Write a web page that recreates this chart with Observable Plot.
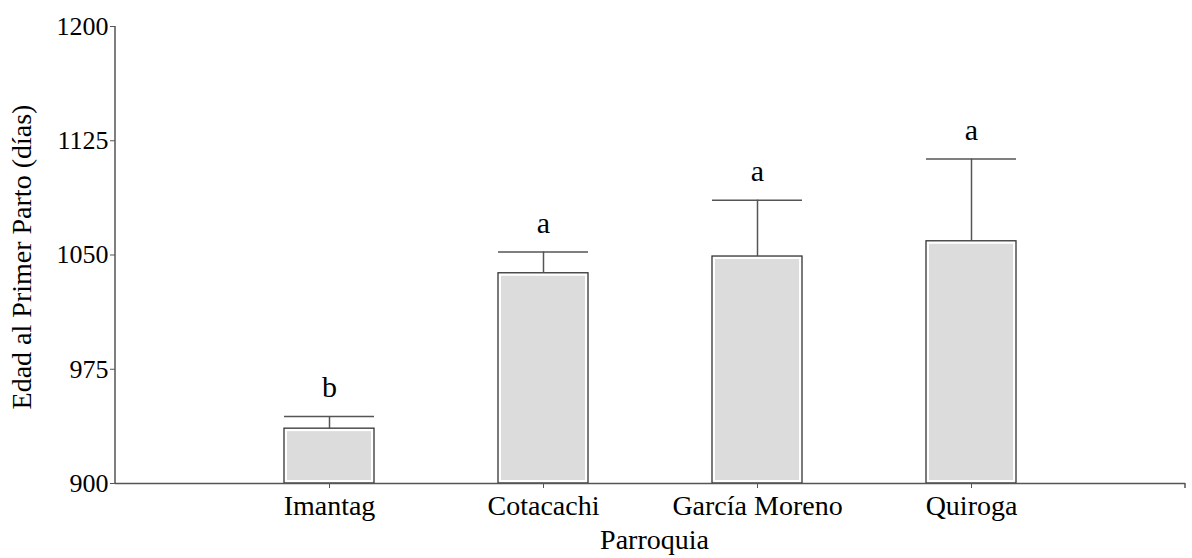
<!DOCTYPE html>
<html>
<head>
<meta charset="utf-8">
<script src="https://cdn.jsdelivr.net/npm/d3@7"></script>
<script src="https://cdn.jsdelivr.net/npm/@observablehq/plot@0.6"></script>
<style>
  html, body { margin: 0; padding: 0; background: #fff; }
  #chart { width: 1192px; height: 558px; }
</style>
</head>
<body>
<div id="chart"></div>
<script>
const categories = ["Imantag", "Cotacachi", "García Moreno", "Quiroga"];
const means = [936, 1038, 1049, 1059];
const upper = [944, 1052, 1086, 1113];
const letters = ["b", "a", "a", "a"];
const yTicks = [900, 975, 1050, 1125, 1200];
const yLabel = "Edad al Primer Parto (días)";
const xLabel = "Parroquia";

const data = categories.map((c, i) => ({ cat: c, mean: means[i], up: upper[i], letter: letters[i] }));

const plot = Plot.plot({
  width: 1192,
  height: 558,
  marginLeft: 115,
  marginRight: 7,
  marginTop: 26,
  marginBottom: 75,
  style: { fontFamily: "'Liberation Serif', 'Times New Roman', serif", fontSize: "26px", color: "#000", background: "#fff" },
  x: { type: "band", domain: categories, paddingInner: 0.58, paddingOuter: 0.78 },
  y: { domain: [900, 1200] },
  marks: [
    Plot.barY(data, { x: "cat", y1: 900, y2: "mean", fill: "#ffffff", stroke: "#333", strokeWidth: 1.3 }),
    Plot.barY(data, { x: "cat", y1: 900, y2: "mean", fill: "#dcdcdc", inset: 3 }),
    Plot.ruleX(data, { x: "cat", y1: "mean", y2: "up", stroke: "#555", strokeWidth: 1.5 }),
    Plot.tickY(data, { x: "cat", y: "up", stroke: "#555", strokeWidth: 1.5 }),
    Plot.text(data, { x: "cat", y: "up", text: "letter", dy: -29, fontSize: 30, fill: "#000" }),
    Plot.ruleY([900], { stroke: "#555", strokeWidth: 1.5 }),
    Plot.axisY({ ticks: yTicks, tickFormat: d => String(d), tickSize: 5, tickPadding: 2, stroke: "#555", label: null, fontSize: 26 }),
    Plot.axisX({ tickSize: 5, tickPadding: 7, stroke: "#555", label: null, fontSize: 28 }),
    Plot.text([yLabel], { text: d => d, frameAnchor: "left", textAnchor: "middle", lineAnchor: "middle", rotate: -90, dx: -93, dy: 2, fontSize: 28, fill: "#000" }),
    Plot.text([xLabel], { text: d => d, frameAnchor: "bottom", textAnchor: "middle", lineAnchor: "middle", dx: 4, dy: 57, fontSize: 28, fill: "#000" })
  ]
});
document.getElementById("chart").appendChild(plot);

// axis line for y (left edge of frame), drawn using the y scale range
const ys = plot.scale("y");
const svg = d3.select(plot);
svg.append("line")
  .attr("x1", 115).attr("x2", 115)
  .attr("y1", ys.apply(1200)).attr("y2", ys.apply(900))
  .attr("stroke", "#555").attr("stroke-width", 1.5);
svg.append("line")
  .attr("x1", 1185).attr("x2", 1185)
  .attr("y1", ys.apply(900)).attr("y2", ys.apply(900) + 5)
  .attr("stroke", "#555").attr("stroke-width", 1.5);
</script>
</body>
</html>
